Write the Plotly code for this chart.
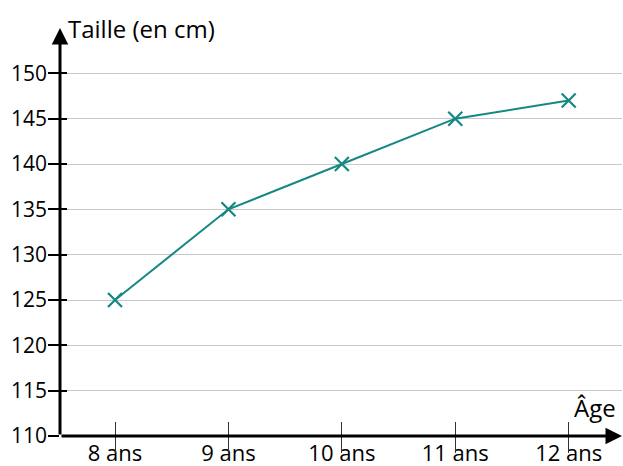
import plotly.graph_objects as go

categories = ["8 ans", "9 ans", "10 ans", "11 ans", "12 ans"]
tailles = [125, 135, 140, 145, 147]
y_ticks = [110, 115, 120, 125, 130, 135, 140, 145, 150]

FONT = "'Open Sans', sans-serif"
TEAL = "#138884"

xs = list(range(len(categories)))
x_min, x_max = -0.485, 4.47
y_min, y_max = 110, 155

fig = go.Figure()
# invisible companion trace so the overlay axes (outer tick halves) are drawn
fig.add_trace(go.Scatter(x=xs, y=tailles, xaxis="x2", yaxis="y2", mode="markers",
                         marker=dict(opacity=0), hoverinfo="skip", showlegend=False))
fig.add_trace(go.Scatter(
    x=xs, y=tailles, mode="lines+markers",
    line=dict(color=TEAL, width=2),
    marker=dict(symbol="x-thin", size=14, line=dict(color=TEAL, width=2.2), color=TEAL),
    showlegend=False, cliponaxis=False,
))

annotations = [
    dict(x=x_max, y=y_min, ax=x_min, ay=y_min, xref="x", yref="y", axref="x", ayref="y",
         showarrow=True, arrowhead=2, arrowsize=1.1, arrowwidth=3, arrowcolor="black", text=""),
    dict(x=x_min, y=y_max, ax=x_min, ay=y_min, xref="x", yref="y", axref="x", ayref="y",
         showarrow=True, arrowhead=2, arrowsize=1.1, arrowwidth=3, arrowcolor="black", text=""),
    dict(x=x_min, y=y_max, xref="x", yref="y", xshift=6, yshift=0, xanchor="left", yanchor="middle",
         text="Taille (en cm)", showarrow=False, font=dict(family=FONT, size=24, color="black")),
    dict(x=x_max, y=y_min, xref="x", yref="y", xshift=-4, yshift=10, xanchor="right", yanchor="bottom",
         text="Âge", showarrow=False, font=dict(family=FONT, size=24, color="black")),
]

axis_common = dict(zeroline=False, showline=False, automargin=False)

fig.update_layout(
    width=623, height=466,
    margin=dict(l=60, r=1, t=28, b=30, autoexpand=False),
    paper_bgcolor="white", plot_bgcolor="white",
    font=dict(family=FONT, size=21, color="black"),
    annotations=annotations,
    xaxis=dict(range=[x_min, x_max], tickmode="array", tickvals=xs, ticktext=categories,
               showgrid=False, ticks="inside", ticklen=14, tickwidth=1.2, tickcolor="#333",
               ticklabelstandoff=2, tickfont=dict(size=22), **axis_common),
    xaxis2=dict(range=[x_min, x_max], overlaying="x", anchor="y", side="bottom",
                tickmode="array", tickvals=xs, showticklabels=False, showgrid=False,
                ticks="outside", ticklen=16, tickwidth=1.2, tickcolor="#333", **axis_common),
    yaxis=dict(range=[y_min, y_max], tickmode="array", tickvals=y_ticks,
               ticktext=[str(v) for v in y_ticks],
               showgrid=True, gridcolor="#c8c8c8", gridwidth=1,
               ticks="inside", ticklen=7, tickwidth=2, tickcolor="black",
               ticklabelstandoff=12, tickfont=dict(size=21), **axis_common),
    yaxis2=dict(range=[y_min, y_max], overlaying="y", anchor="x", side="left",
                tickmode="array", tickvals=y_ticks, showticklabels=False, showgrid=False,
                ticks="outside", ticklen=11, tickwidth=2, tickcolor="black", **axis_common),
)

fig.write_html("out.html", config={"displayModeBar": False},
               post_script="document.body.style.margin='0';document.body.style.overflow='hidden';")
